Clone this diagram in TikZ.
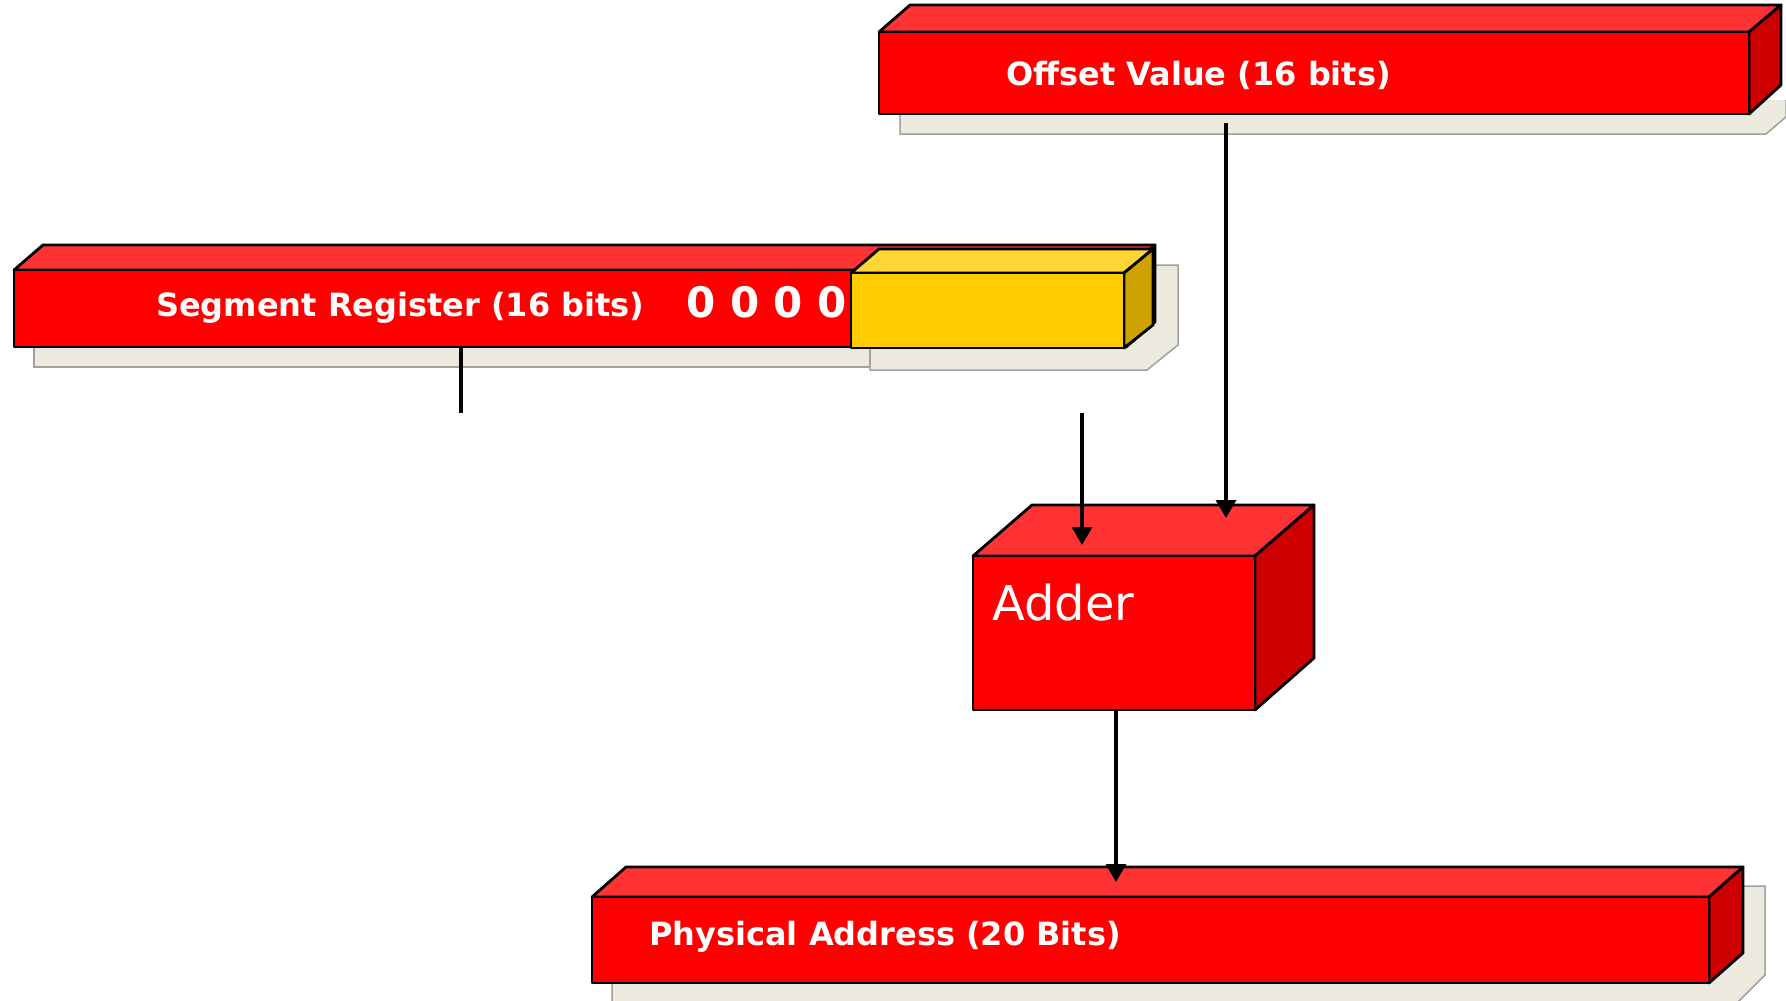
\documentclass[tikz,border=0pt]{standalone}
\usepackage{fontspec}
\setmainfont{DejaVu Sans}
\usetikzlibrary{arrows.meta}
\definecolor{regfront}{RGB}{255,0,0}
\definecolor{regtop}{RGB}{255,51,51}
\definecolor{regside}{RGB}{204,0,0}
\definecolor{yelfront}{RGB}{255,204,0}
\definecolor{yeltop}{RGB}{255,214,51}
\definecolor{yelside}{RGB}{204,163,0}
\definecolor{backfill}{RGB}{236,233,223}
\definecolor{backline}{RGB}{160,160,160}

\begin{document}
\begin{tikzpicture}[x=1pt,y=-1pt,
	face/.style={draw=black,line width=2.8pt,line join=round},
	backdrop/.style={fill=backfill,draw=backline,line width=1.5pt},
	boxlabel/.style={text=white,anchor=west,inner sep=0pt,font=\bfseries\fontsize{32}{38}\selectfont},
	wire/.style={line width=3.5pt},
	feed/.style={wire,-{Triangle[length=18pt,width=20pt]}}]
			\useasboundingbox (0,0) rectangle (1786,1001);
			%Shadows
			\path[backdrop] (900,100) -- (900,134) -- (1766,134) -- (1786,117) -- (1786,100);
			\path[backdrop] (870,300) -- (870,370) -- (1147,370) -- (1178,345) -- (1178,265) -- (1150,265);
			\path[backdrop] (34,300) -- (34,367) -- (870,367) -- (870,300);
			\path[backdrop] (612,960) -- (612,1010) -- (1730,1010) -- (1765,975) -- (1765,886) -- (1740,886);
			%Offset Value
			\path[face,fill=regtop] (879,32) -- (910,5) -- (1781,5) -- (1749,32) -- cycle;
			\path[face,fill=regside] (1749,32) -- (1781,5) -- (1781,85) -- (1749,114) -- cycle;
			\path[face,fill=regfront] (879,32) rectangle (1749,114);
			\node[boxlabel] (offset) at (1006,75) {Offset Value (16 bits)};
			%Segment Register
			\path[face,fill=regtop] (14,270) -- (43,245) -- (1155,245) -- (1126,270) -- cycle;
			\path[face,fill=regside] (1126,270) -- (1155,245) -- (1155,322) -- (1126,347) -- cycle;
			\path[face,fill=regfront] (14,270) rectangle (1126,347);
			\path[face,fill=yeltop] (851,273) -- (879,249) -- (1153,249) -- (1124,273) -- cycle;
			\path[face,fill=yelside] (1124,273) -- (1153,249) -- (1153,325) -- (1124,348) -- cycle;
			\path[face,fill=yelfront] (851,273) rectangle (1124,348);
			\node[boxlabel] (segreg) at (156,308) {Segment Register (16 bits)};
			\node[boxlabel,font=\bfseries\fontsize{42}{50}\selectfont] (zeros) at (686,302) {0 0 0 0};
			%Adder
			\path[face,fill=regtop] (973,556) -- (1032,505) -- (1314,505) -- (1255,556) -- cycle;
			\path[face,fill=regside] (1255,556) -- (1314,505) -- (1314,658) -- (1255,710) -- cycle;
			\path[face,fill=regfront] (973,556) rectangle (1255,710);
			\node[text=white,anchor=base west,inner sep=0pt,font=\fontsize{48}{56}\selectfont] (adder) at (992,620) {Adder};
			%Physical Address
			\path[face,fill=regtop] (592,897) -- (626,867) -- (1743,867) -- (1709,897) -- cycle;
			\path[face,fill=regside] (1709,897) -- (1743,867) -- (1743,953) -- (1709,983) -- cycle;
			\path[face,fill=regfront] (592,897) rectangle (1709,983);
			\node[boxlabel] (phys) at (649,937) {Physical Address (20 Bits)};
			%Wires
			\coordinate (offsetTap) at (1226,123);
			\coordinate (adderTopR) at (1226,518);
			\coordinate (segTap) at (461,347);
			\coordinate (segEnd) at (461,413);
			\coordinate (shiftStart) at (1082,413);
			\coordinate (adderTopL) at (1082,545);
			\coordinate (adderOut) at (1116,711);
			\coordinate (physTop) at (1116,882);
			\draw[feed] (offsetTap) -- (adderTopR);
			\draw[wire] (segTap) -- (segEnd);
			\draw[feed] (shiftStart) -- (adderTopL);
			\draw[feed] (adderOut) -- (physTop);
		\end{tikzpicture}
\end{document}
